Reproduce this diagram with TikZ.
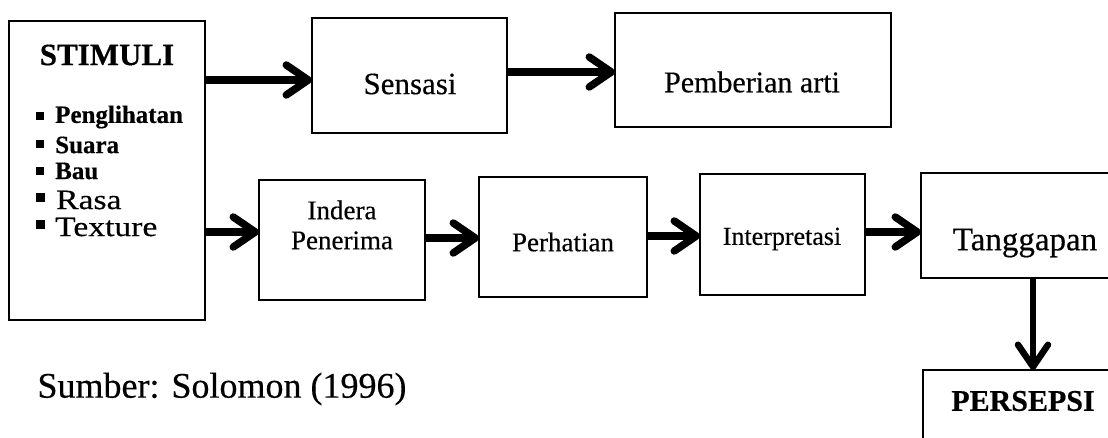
\documentclass[tikz,border=0pt]{standalone}
\usepackage{fontspec}
\setmainfont{Liberation Serif}[FakeBold=0.4]
\newfontfamily\widefont{Liberation Serif}[FakeStretch=1.2,FakeBold=0.4]
\usetikzlibrary{arrows.meta}
\begin{document}
\begin{tikzpicture}[x=1pt,y=-1pt,
  box/.style={draw,line width=2.8pt,anchor=north west,inner sep=0pt,outer sep=0pt},
  arr/.style={line width=7.5pt,-{Straight Barb[length=22pt,width=30pt,round]}},
  lbl/.style={inner sep=0pt,font=\fontsize{#1}{#1}\selectfont},
  blbl/.style={inner sep=0pt,font=\fontsize{#1}{#1}\selectfont\bfseries},
  bul/.style={fill,inner sep=0pt,minimum size=#1}]
\useasboundingbox (0,0) rectangle (1108,438);
\clip (0,0) rectangle (1108,438);
% boxes
\node[box,minimum width=196pt,minimum height=299pt] (stim) at (9,21) {};
\node[box,minimum width=195pt,minimum height=115pt] (sens) at (312,18) {};
\node[box,minimum width=276pt,minimum height=114pt] (pemb) at (615,13) {};
\node[box,minimum width=166pt,minimum height=120pt] (ind) at (259,180) {};
\node[box,minimum width=168pt,minimum height=120pt] (perh) at (479,177) {};
\node[box,minimum width=165pt,minimum height=121pt] (interp) at (700,174) {};
\node[box,minimum width=200pt,minimum height=105pt] (tang) at (921,173) {};
\node[box,minimum width=200pt,minimum height=90pt] (pers) at (923,370) {};
% texts
\node[blbl=31] (tstim) at (107,55) {STIMULI};
\node[bul=8pt] (b1) at (40,116) {};
\node[bul=8pt] (b2) at (40,144) {};
\node[bul=8pt] (b3) at (40,171) {};
\node[bul=9pt] (b4) at (40,198) {};
\node[bul=9pt] (b5) at (40,225) {};
\node[blbl=25,anchor=west] (t1) at (55,117) {Penglihatan};
\node[blbl=25,anchor=west] (t2) at (55,145) {Suara};
\node[blbl=25,anchor=west] (t3) at (55,171) {Bau};
\node[lbl=28,anchor=west] (t4) at (56,200) {\widefont Rasa};
\node[lbl=28,anchor=west] (t5) at (55,227) {\widefont Texture};
\node[lbl=31] (tsens) at (410,84) {Sensasi};
\node[lbl=30] (tpemb) at (752,82) {Pemberian arti};
\node[align=center,inner sep=0pt,font=\fontsize{27}{30}\selectfont] (tind) at (342,225) {Indera\\Penerima};
\node[lbl=27] (tperh) at (563,242) {Perhatian};
\node[lbl=26] (tinterp) at (782,239) {Interpretasi};
\node[lbl=33] (ttang) at (1025,243) {Tanggapan};
\node[blbl=30] (tpers) at (1023,401) {PERSEPSI};
\node[lbl=36] (src) at (222,389) {Sumber: Solomon (1996)};
% connectors
\draw[arr] (stim.east |- 0,80) -- (sens.west |- 0,80);
\draw[arr] (sens.east |- 0,72) -- (pemb.west |- 0,72);
\draw[arr] (stim.east |- 0,232) -- (ind.west |- 0,232);
\draw[arr] (ind.east |- 0,238) -- (perh.west |- 0,238);
\draw[arr] (perh.east |- 0,236) -- (interp.west |- 0,236);
\draw[arr] (interp.east |- 0,232) -- (tang.west |- 0,232);
\draw[arr,line width=6.5pt] (tang.south -| 1033,0) -- (pers.north -| 1033,0);
\end{tikzpicture}
\end{document}
